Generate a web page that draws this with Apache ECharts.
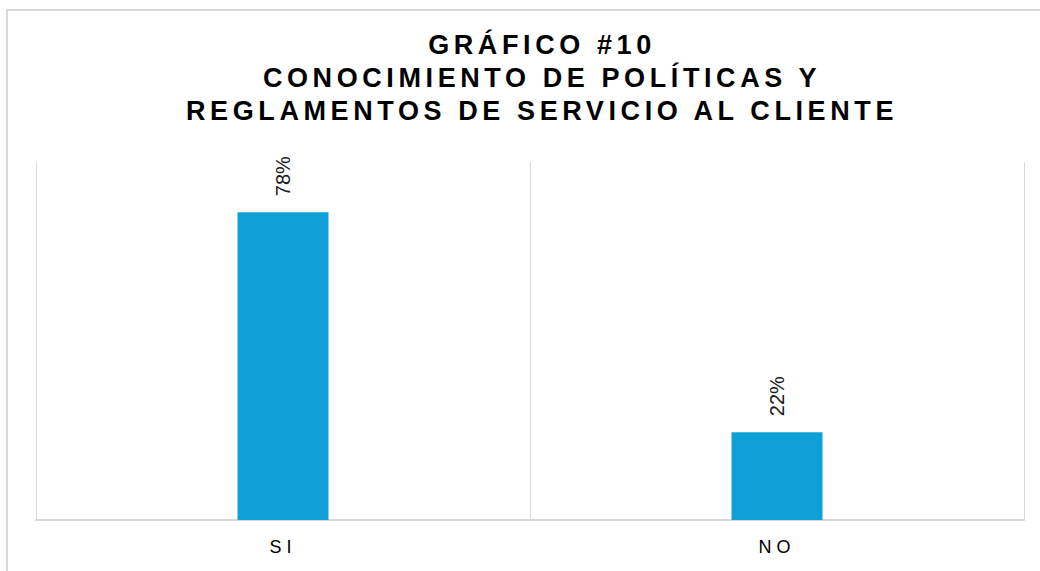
<!DOCTYPE html>
<html>
<head>
<meta charset="utf-8">
<script src="https://cdn.jsdelivr.net/npm/echarts@6/dist/echarts.min.js"></script>
<style>
  html, body { margin: 0; padding: 0; background: #fff; }
  #chart { width: 1040px; height: 571px; }
  #chart text[style*="27px"] { letter-spacing: 4.6px; }
  #chart text[style*="18px"] { letter-spacing: 5px; }
</style>
</head>
<body>
<div id="chart"></div>
<script>
const titleText = 'GRÁFICO #10\nCONOCIMIENTO DE POLÍTICAS Y\nREGLAMENTOS DE SERVICIO AL CLIENTE';
const categories = ['SI', 'NO'];
const percentValues = [77.8, 22.2];
const axisMax = 90.5;

const chart = echarts.init(document.getElementById('chart'), null, { renderer: 'svg' });
chart.setOption({
  backgroundColor: '#ffffff',
  animation: false,
  title: {
    text: titleText,
    left: 542,
    textAlign: 'center',
    top: 23,
    padding: [5, 0, 5, 0],
    textStyle: {
      fontFamily: 'Liberation Sans',
      fontWeight: 'bold',
      fontSize: 27,
      lineHeight: 33,
      color: '#000000'
    }
  },
  graphic: [{
    type: 'rect',
    shape: { x: 7, y: 10, width: 1100, height: 700 },
    style: { fill: 'none', stroke: '#d9d9d9', lineWidth: 2 },
    silent: true
  }],
  grid: { left: 36, right: 16, top: 162, bottom: 51 },
  xAxis: {
    type: 'category',
    data: categories,
    boundaryGap: true,
    axisLine: { show: true, lineStyle: { color: '#d9d9d9', width: 2 } },
    axisTick: { show: false },
    splitLine: { show: true, lineStyle: { color: '#d9d9d9', width: 1 } },
    axisLabel: {
      margin: 18,
      fontFamily: 'Liberation Sans',
      fontSize: 18,
      color: '#000000'
    }
  },
  yAxis: {
    type: 'value',
    min: 0,
    max: axisMax,
    show: false,
    splitLine: { show: false }
  },
  series: [{
    type: 'bar',
    data: percentValues,
    barWidth: 91,
    itemStyle: { color: '#109fd7' },
    label: {
      show: true,
      position: 'top',
      distance: 16,
      rotate: 90,
      align: 'left',
      verticalAlign: 'middle',
      formatter: function (p) { return Math.round(p.value) + '%'; },
      fontFamily: 'Arial',
      fontSize: 20,
      color: '#1a1a1a'
    }
  }]
});
</script>
</body>
</html>
